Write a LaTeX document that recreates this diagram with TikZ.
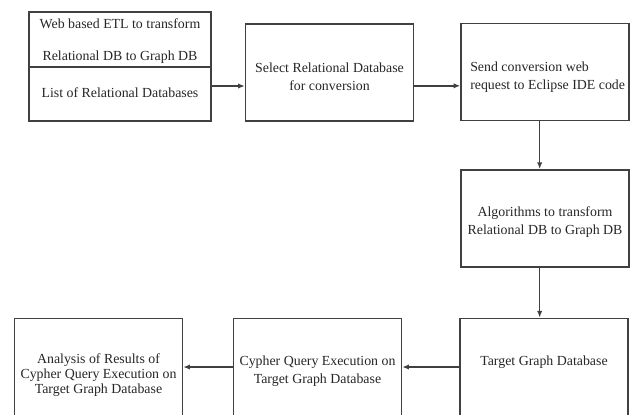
\documentclass[tikz,border=0pt]{standalone}
\usepackage{fontspec}
\setmainfont{Liberation Serif}
\usetikzlibrary{arrows.meta}
\tikzset{
    mybox/.style={draw=black!75,line width=1.1pt,inner sep=0pt,minimum width=126pt,minimum height=73pt},
    mytext/.style={align=center,inner sep=0pt,text=black!85,font=\fontsize{10.4}{13.5}\selectfont},
    myarrow/.style={draw=black!75,line width=1.1pt,-{Latex[length=5pt,width=4pt]}}
}
\begin{document}
\begin{tikzpicture}[x=0.75pt,y=-0.75pt]
  \useasboundingbox (0,0) rectangle (634,414);

  % 方框
  \node[mybox,minimum width=136.5pt,minimum height=41.25pt] (etl) at (120,39.5) {};
  \node[mybox,minimum width=136.5pt,minimum height=40.5pt] (rdblist) at (120,94) {};
  \node[mybox] (select)   at (329.5,72.5) {};
  \node[mybox] (send)     at (545,72)     {};
  \node[mybox] (algo)     at (545,218.5)  {};
  \node[mybox] (target)   at (544,367)    {};
  \node[mybox] (cypher)   at (317.5,367)  {};
  \node[mybox] (analysis) at (98.5,367)   {};

  % 文字
  \node[mytext] (etl-txt) at (120,41) {Web based ETL to transform\\[10.5pt]Relational DB to Graph DB};
  \node[mytext] (rdblist-txt) at (120,93) {List of Relational Databases};
  \node[mytext] (select-txt) at (329.5,77) {Select Relational Database\\for conversion};
  \node[mytext,align=left,anchor=west] (send-txt) at (470,77) {Send conversion web\\request to Eclipse IDE code};
  \node[mytext] (algo-txt) at (545,222.5) {Algorithms to transform\\Relational DB to Graph DB};
  \node[mytext] (target-txt) at (544,362) {Target Graph Database};
  \node[mytext] (cypher-txt) at (317.5,371) {Cypher Query Execution on\\Target Graph Database};
  \node[mytext] (analysis-txt) at (98.5,375) {Analysis of Results of\\[-2pt]Cypher Query Execution on\\[-2pt]Target Graph Database};

  % 箭头
  \draw[myarrow] ([yshift=6pt]rdblist.east) coordinate (a1) -- (a1 -| select.west);
  \draw[myarrow] ([yshift=-10pt]select.east) coordinate (a2) -- (a2 -| send.west);
  \draw[myarrow] ([xshift=-4pt]send.south) coordinate (a3) -- (a3 |- algo.north);
  \draw[myarrow] ([xshift=-4pt]algo.south) coordinate (a4) -- (a4 |- target.north);
  \draw[myarrow] (target.west) -- (cypher.east);
  \draw[myarrow] (cypher.west) -- (analysis.east);
\end{tikzpicture}
\end{document}
